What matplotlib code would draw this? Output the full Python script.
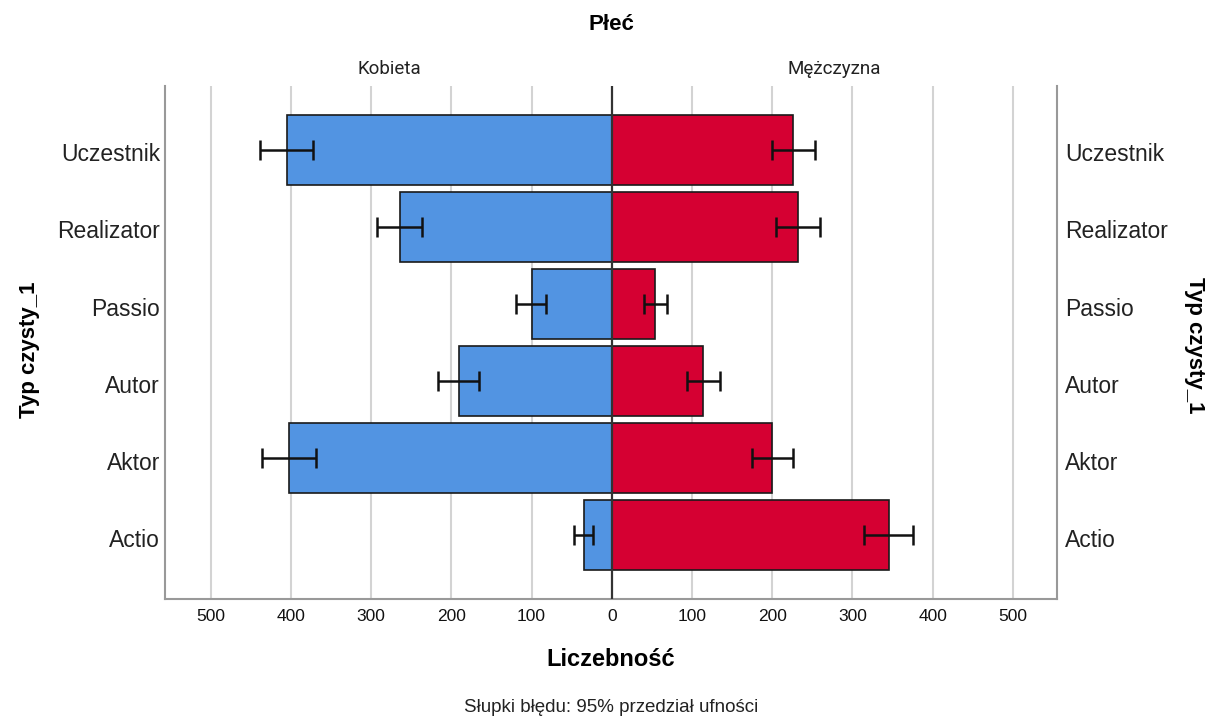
import matplotlib.pyplot as plt
import matplotlib.transforms as mtransforms
import numpy as np

typy = ['Uczestnik', 'Realizator', 'Passio', 'Autor', 'Aktor', 'Actio']

# liczebnosci
kobieta = [405, 264, 100, 191, 402, 35]
mezczyzna = [226, 232, 54, 114, 200, 345]

# 95% przedzial ufnosci (dolna, gorna granica)
kob_lo = [372, 236, 82, 166, 369, 23]
kob_hi = [439, 293, 120, 217, 436, 47]
mez_lo = [200, 205, 40, 94, 175, 315]
mez_hi = [253, 259, 69, 135, 226, 376]

ticks = [-500, -400, -300, -200, -100, 0, 100, 200, 300, 400, 500]

blue = '#5294e2'
red = '#d50032'

fig = plt.figure(figsize=(12.13, 7.18), dpi=100)
ax = fig.add_axes([0.136, 0.1657, 0.7354, 0.7145])

y = np.arange(len(typy))
kob = np.array(kobieta)
mez = np.array(mezczyzna)

ax.barh(y, -kob, height=0.9, color=blue, edgecolor='#1a1a1a', linewidth=1.2, zorder=3)
ax.barh(y, mez, height=0.9, color=red, edgecolor='#1a1a1a', linewidth=1.2, zorder=3)

kerr = [np.array(kob_hi) - kob, kob - np.array(kob_lo)]
ax.errorbar(-kob, y, xerr=kerr, fmt='none', ecolor='#111111', elinewidth=1.8,
            capsize=7, capthick=1.8, zorder=4)
merr = [mez - np.array(mez_lo), np.array(mez_hi) - mez]
ax.errorbar(mez, y, xerr=merr, fmt='none', ecolor='#111111', elinewidth=1.8,
            capsize=7, capthick=1.8, zorder=4)

ax.axvline(0, color='#333333', lw=1.6, zorder=5)
for t in ticks:
    if t != 0:
        ax.axvline(t, color='#d3d3d3', lw=1.5, zorder=1)

ax.set_xlim(-557, 555)
ax.set_ylim(5.83, -0.83)
ax.set_xticks(ticks)
ax.set_xticklabels([str(abs(t)) for t in ticks], family=['Liberation Sans Narrow', 'Liberation Sans'],
                   fontsize=12.5, color='#111111')
ax.tick_params(axis='x', length=0, pad=7)
ax.set_yticks([])

# etykiety kategorii po obu stronach
trans = ax.get_yaxis_transform()
off_l = mtransforms.ScaledTranslation(-5 / 100, -5 / 100, fig.dpi_scale_trans)
off_r = mtransforms.ScaledTranslation(8 / 100, -5 / 100, fig.dpi_scale_trans)
for i, name in enumerate(typy):
    ax.text(0, i, name, transform=trans + off_l, ha='right', va='center',
            family='Liberation Sans', fontsize=16.5, color='#222222')
    ax.text(1, i, name, transform=trans + off_r, ha='left', va='center',
            family='Liberation Sans', fontsize=16.5, color='#222222')

ax.spines['top'].set_visible(False)
for s in ('left', 'right', 'bottom'):
    ax.spines[s].set_color('#999999')
    ax.spines[s].set_linewidth(1.5)

fig.text(611 / 1213, 1 - 24 / 718, 'Płeć', ha='center', va='center',
         family='Liberation Sans', fontweight='bold', fontsize=16)
fig.text(389 / 1213, 1 - 69 / 718, 'Kobieta', ha='center', va='center',
         family='Roboto', fontsize=13.5, color='#222222')
fig.text(834 / 1213, 1 - 69 / 718, 'Mężczyzna', ha='center', va='center',
         family='Roboto', fontsize=13.5, color='#222222')
fig.text(611 / 1213, 1 - 660 / 718, 'Liczebność', ha='center', va='center',
         family='Liberation Sans', fontweight='bold', fontsize=17)
fig.text(611 / 1213, 1 - 707 / 718, 'Słupki błędu: 95% przedział ufności', ha='center', va='center',
         family='Liberation Sans', fontsize=13.5, color='#222222')
fig.text(30 / 1213, 1 - 350 / 718, 'Typ czysty_1', ha='center', va='center', rotation=90,
         family='Liberation Sans', fontweight='bold', fontsize=16)
fig.text(1195 / 1213, 1 - 345 / 718, 'Typ czysty_1', ha='center', va='center', rotation=-90,
         family='Liberation Sans', fontweight='bold', fontsize=16)

fig.savefig('out.png', dpi=100)
